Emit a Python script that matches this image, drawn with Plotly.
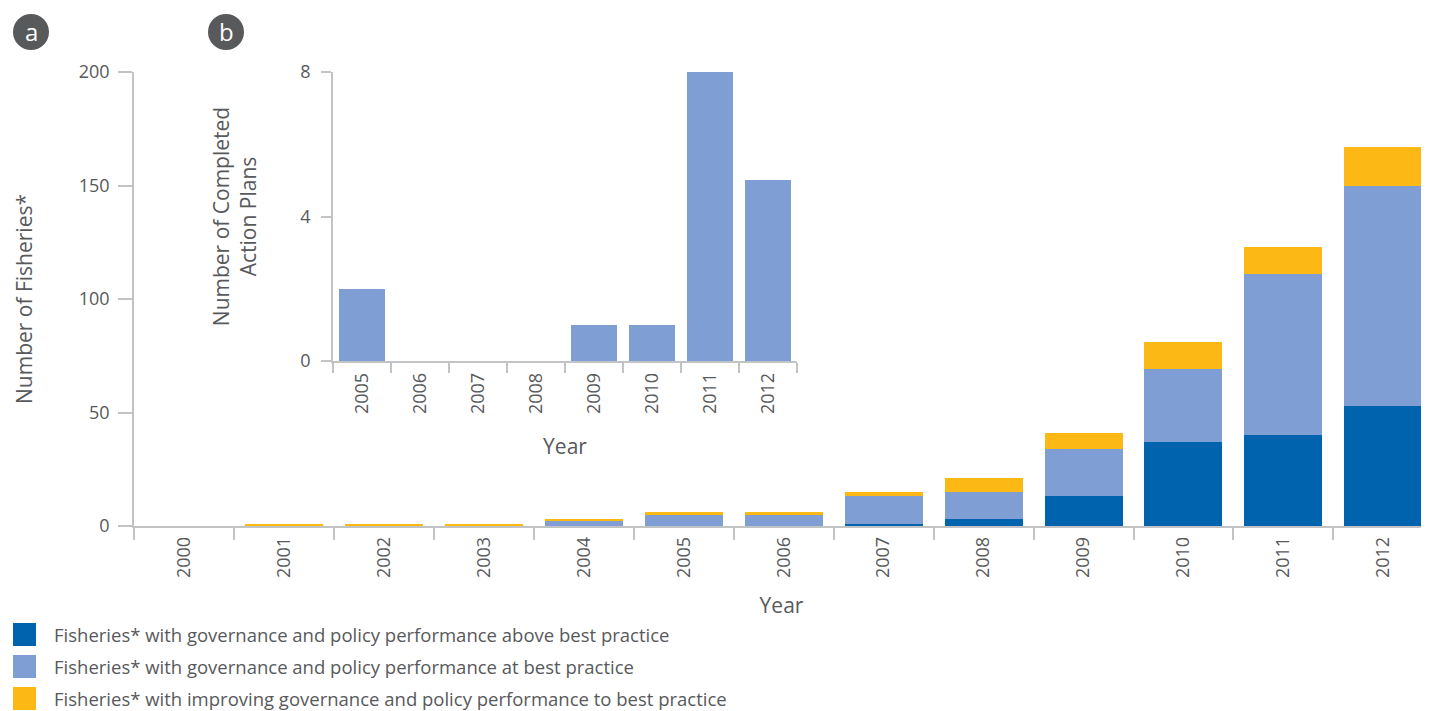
import plotly.graph_objects as go

years = ["2000", "2001", "2002", "2003", "2004", "2005", "2006",
         "2007", "2008", "2009", "2010", "2011", "2012"]
above_best = [0, 0, 0, 0, 0, 0, 0, 1, 3, 13, 37, 40, 53]
at_best = [0, 0, 0, 0, 2, 5, 5, 12, 12, 21, 32, 71, 97]
improving = [0, 1, 1, 1, 1, 1, 1, 2, 6, 7, 12, 12, 17]

series_names = [
    "Fisheries* with governance and policy performance above best practice",
    "Fisheries* with governance and policy performance at best practice",
    "Fisheries* with improving governance and policy performance to best practice",
]

inset_years = ["2005", "2006", "2007", "2008", "2009", "2010", "2011", "2012"]
action_plans = [2, 0, 0, 0, 1, 1, 8, 5]

main_ticks = [0, 50, 100, 150, 200]
inset_ticks = [0, 4, 8]

C_DARK = "#0063AE"
C_MID = "#7F9ED3"
C_YEL = "#FCB814"
TXT = "#58595B"
AX = "#C2C3C5"
FONT = "Open Sans"

# page has an 8px body margin; work in reference pixel coordinates
OFF = 8
W, H = 1429 - OFF, 711 - OFF
L, T = 134 - OFF, 72 - OFF
PW = W - L
PH = 454
R = 0
B = H - T - PH

CAT_PX = 99.95  # pixel width of one year band in the reference
x_hi = -0.5 + PW / CAT_PX


def px_x(px):
    return (px - OFF - L) / PW


def px_y(py):
    return (T + PH - (py - OFF)) / PH


fig = go.Figure()
for vals, col, name in zip([above_best, at_best, improving],
                           [C_DARK, C_MID, C_YEL], series_names):
    fig.add_trace(go.Bar(x=years, y=vals, name=name, marker_color=col,
                         marker_line_width=0, width=0.78,
                         xaxis="x", yaxis="y", showlegend=False))

fig.add_trace(go.Bar(x=inset_years, y=action_plans, marker_color=C_MID,
                     marker_line_width=0, width=0.79, name="Completed Action Plans",
                     xaxis="x2", yaxis="y2", showlegend=False))

axis_common = dict(showline=True, linecolor=AX, linewidth=1.5, ticks="outside",
                   tickcolor=AX, tickwidth=1.5, showgrid=False, zeroline=False,
                   automargin=False,
                   tickfont=dict(family=FONT, size=18, color=TXT))
TITLE_FONT = dict(family=FONT, size=21, color=TXT)

fig.update_layout(
    width=W, height=H,
    margin=dict(l=L, r=R, t=T, b=B),
    paper_bgcolor="white", plot_bgcolor="white",
    barmode="stack",
    font=dict(family=FONT, color=TXT),
    xaxis=dict(type="category", categoryorder="array", categoryarray=years,
               range=[-0.5, x_hi], tickson="boundaries", ticklen=12,
               tickangle=-90, ticklabelstandoff=2,
               title=dict(text="Year", font=TITLE_FONT, standoff=21),
               **axis_common),
    yaxis=dict(range=[0, 200], tickvals=main_ticks, ticklen=14,
               ticklabelstandoff=5,
               title=dict(text="Number of Fisheries*", font=TITLE_FONT,
                          standoff=40),
               **axis_common),
    xaxis2=dict(type="category", categoryorder="array", categoryarray=inset_years,
                range=[-0.5, 7.5], tickson="boundaries", ticklen=10,
                tickangle=-90, anchor="y2", ticklabelstandoff=3,
                domain=[px_x(333), px_x(797)],
                title=dict(text="Year", font=TITLE_FONT, standoff=26),
                **axis_common),
    yaxis2=dict(range=[0, 8], tickvals=inset_ticks, ticklen=10, anchor="x2",
                ticklabelstandoff=7,
                domain=[px_y(361), 1],
                title=dict(text="Number of Completed<br>Action Plans",
                           font=TITLE_FONT, standoff=38),
                **axis_common),
)

# panel badges
for cx, label in [(31, "a"), (226, "b")]:
    fig.add_shape(type="circle", xref="paper", yref="paper", layer="below",
                  x0=px_x(cx - 18), x1=px_x(cx + 18), y0=px_y(50), y1=px_y(14),
                  fillcolor="#58595B", line_width=0)
    fig.add_annotation(x=px_x(cx), y=px_y(31), xref="paper", yref="paper",
                       text=label, showarrow=False, xanchor="center", yanchor="middle",
                       font=dict(family=FONT, size=24, color="white"))

# legend
for i, (col, name) in enumerate(zip([C_DARK, C_MID, C_YEL], series_names)):
    top = 623 + i * 32
    fig.add_shape(type="rect", xref="paper", yref="paper",
                  x0=px_x(13), x1=px_x(36), y0=px_y(top + 23), y1=px_y(top),
                  fillcolor=col, line_width=0)
    fig.add_annotation(x=px_x(52), y=px_y(top + 11), xref="paper", yref="paper",
                       text=name, showarrow=False, xanchor="left", yanchor="middle",
                       font=dict(family=FONT, size=18.5, color=TXT))

fig.write_html("out.html")
